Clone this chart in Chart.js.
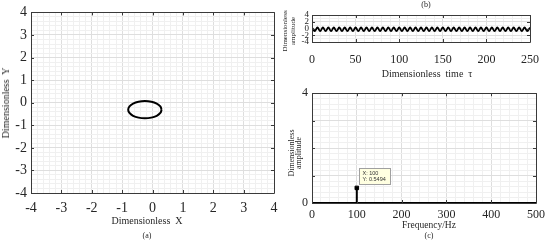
<!DOCTYPE html>
<html><head><meta charset="utf-8">
<script src="https://cdn.jsdelivr.net/npm/chart.js@4/dist/chart.umd.min.js"></script>
<style>
body{margin:0;background:#fff;width:550px;height:243px;overflow:hidden;position:relative}
canvas{position:absolute;display:block}
.t{position:absolute;white-space:nowrap;font-family:"Liberation Serif","Times New Roman",serif;color:#262626;line-height:1;transform:translate(-50%,-50%)}
.r{transform:translate(-50%,-50%) rotate(-90deg)}
</style></head><body>
<canvas id="ca" width="285" height="243" style="left:0;top:0"></canvas>
<canvas id="cb" width="290" height="82" style="left:260px;top:0"></canvas>
<canvas id="cc" width="290" height="161" style="left:260px;top:82px"></canvas>

<div class="t r" style="left:6px;top:103px;font-size:10px">Dimensionless&nbsp; Y</div>
<div class="t" style="left:147px;top:221px;font-size:10px">Dimensionless&nbsp; X</div>
<div class="t" style="left:147px;top:236px;font-size:8px">(a)</div>

<div class="t" style="left:426px;top:5px;font-size:8px">(b)</div>
<div class="t r" style="left:285px;top:31px;font-size:7px">Dimensionless</div>
<div class="t r" style="left:293px;top:31px;font-size:7px">amplitude</div>
<div class="t" style="left:427px;top:74px;font-size:10px">Dimensionless&nbsp; time&nbsp; τ</div>

<div class="t r" style="left:292px;top:153px;font-size:8px">Dimensionless</div>
<div class="t r" style="left:299px;top:153px;font-size:8px">amplitude</div>
<div class="t" style="left:429px;top:226px;font-size:9.5px">Frequency/Hz</div>
<div class="t" style="left:429px;top:236px;font-size:8px">(c)</div>

<script>
// ---- Data ----
// (a) phase portrait: Dimensionless X vs Dimensionless Y (closed orbit)
const orbitX = [0.30, 0.258, 0.139, -0.039, -0.25, -0.461, -0.639, -0.758, -0.80, -0.758, -0.639, -0.461, -0.25, -0.039, 0.139, 0.258, 0.30];
const orbitY = [-0.31, -0.164, -0.041, 0.041, 0.07, 0.041, -0.041, -0.164, -0.31, -0.456, -0.579, -0.661, -0.69, -0.661, -0.579, -0.456, -0.31];

// (b) time history: extrema of the oscillation
const timeT = [0,3.125,6.25,9.375,12.5,15.625,18.75,21.875,25,28.125,31.25,34.375,37.5,40.625,43.75,46.875,50,53.125,56.25,59.375,62.5,65.625,68.75,71.875,75,78.125,81.25,84.375,87.5,90.625,93.75,96.875,100,103.125,106.25,109.375,112.5,115.625,118.75,121.875,125,128.125,131.25,134.375,137.5,140.625,143.75,146.875,150,153.125,156.25,159.375,162.5,165.625,168.75,171.875,175,178.125,181.25,184.375,187.5,190.625,193.75,196.875,200,203.125,206.25,209.375,212.5,215.625,218.75,221.875,225,228.125,231.25,234.375,237.5,240.625,243.75,246.875,250];
const ampT = [0.3,-0.8,0.3,-0.8,0.3,-0.8,0.3,-0.8,0.3,-0.8,0.3,-0.8,0.3,-0.8,0.3,-0.8,0.3,-0.8,0.3,-0.8,0.3,-0.8,0.3,-0.8,0.3,-0.8,0.3,-0.8,0.3,-0.8,0.3,-0.8,0.3,-0.8,0.3,-0.8,0.3,-0.8,0.3,-0.8,0.3,-0.8,0.3,-0.8,0.3,-0.8,0.3,-0.8,0.3,-0.8,0.3,-0.8,0.3,-0.8,0.3,-0.8,0.3,-0.8,0.3,-0.8,0.3,-0.8,0.3,-0.8,0.3,-0.8,0.3,-0.8,0.3,-0.8,0.3,-0.8,0.3,-0.8,0.3,-0.8,0.3,-0.8,0.3,-0.8,0.3];

// (c) amplitude spectrum
const freqHz = [0, 100, 100, 100, 500];
const ampF = [0, 0, 0.5494, 0, 0];
const peakHz = [100];
const peakAmp = [0.5494];

// tick label sets
const ticksA = [-4,-3,-2,-1,0,1,2,3,4];
const ticksBY = [-4,-2,0,2,4];
const ticksBX = [0,50,100,150,200,250];
const ticksCX = [0,100,200,300,400,500];
const ticksCY = [0,4];

// ---- helpers ----
const FONT = '"Liberation Serif","Times New Roman",serif';
const near = (v, arr) => arr.some(a => Math.abs(a - v) < 1e-6);
const isMult = (v, m) => Math.abs(v / m - Math.round(v / m)) < 1e-6;
function pts(xs, ys) { return xs.map((x, i) => ({x: x, y: ys[i]})); }

function axis(cfg) {
  return {
    type: 'linear', min: cfg.min, max: cfg.max,
    border: {display: false},
    grid: {
      drawTicks: false,
      color: c => isMult(c.tick.value, cfg.major) ? '#dedede' : '#f0f0f0',
      lineWidth: 1
    },
    ticks: {
      stepSize: cfg.step, autoSkip: false, maxRotation: 0, minRotation: 0,
      padding: cfg.pad, color: '#262626',
      font: {family: FONT, size: cfg.size},
      callback: v => near(v, cfg.labels) ? String(Math.round(v)) : ''
    },
    afterFit: s => { s[cfg.fitKey] = cfg.fit; }
  };
}

function framePlugin(majX, majY, tip) {
  return {
    id: 'frame',
    afterDatasetsDraw(chart) {
      const {ctx, chartArea: a, scales} = chart;
      ctx.save();
      ctx.strokeStyle = '#3a3a3a';
      ctx.lineWidth = 1;
      ctx.beginPath();
      ctx.rect(Math.round(a.left) + 0.5, Math.round(a.top) + 0.5, Math.round(a.right - a.left), Math.round(a.bottom - a.top));
      ctx.stroke();
      const tl = 3;
      ctx.beginPath();
      scales.x.ticks.forEach(t => {
        if (!isMult(t.value, majX)) return;
        const px = Math.round(scales.x.getPixelForValue(t.value)) + 0.5;
        ctx.moveTo(px, a.bottom); ctx.lineTo(px, a.bottom - tl);
        ctx.moveTo(px, a.top); ctx.lineTo(px, a.top + tl);
      });
      scales.y.ticks.forEach(t => {
        if (!isMult(t.value, majY)) return;
        const py = Math.round(scales.y.getPixelForValue(t.value)) + 0.5;
        ctx.moveTo(a.left, py); ctx.lineTo(a.left + tl, py);
        ctx.moveTo(a.right, py); ctx.lineTo(a.right - tl, py);
      });
      ctx.stroke();
      if (tip) {
        const px = scales.x.getPixelForValue(tip.x);
        const py = scales.y.getPixelForValue(tip.y);
        const bx = Math.round(px + 2) + 0.5, by = Math.round(py - 20) + 0.5;
        ctx.fillStyle = '#ffffe1';
        ctx.strokeStyle = '#a0a0a0';
        ctx.fillRect(bx, by, 31, 16);
        ctx.strokeRect(bx, by, 31, 16);
        ctx.fillStyle = '#333';
        ctx.font = '5.5px "Liberation Sans", Arial, sans-serif';
        ctx.textBaseline = 'middle';
        ctx.fillText('X: ' + tip.x, bx + 3, by + 5);
        ctx.fillText('Y: ' + tip.y, bx + 3, by + 11);
      }
      ctx.restore();
    }
  };
}

const common = {
  responsive: false, animation: false,
  plugins: {legend: {display: false}, tooltip: {enabled: false}},
  events: []
};

// ---- (a) ----
new Chart(document.getElementById('ca'), {
  type: 'scatter',
  data: {datasets: [{
    data: pts(orbitX, orbitY), showLine: true, tension: 0.4,
    borderColor: '#000', borderWidth: 2, pointRadius: 0
  }]},
  options: Object.assign({}, common, {
    layout: {padding: {left: 0, top: 11, right: 11, bottom: 0}},
    scales: {
      x: axis({min: -4, max: 4, step: 0.2, major: 1, labels: ticksA, size: 14, pad: 7, fit: 50, fitKey: 'height'}),
      y: axis({min: -4, max: 4, step: 0.2, major: 1, labels: ticksA, size: 14, pad: 4, fit: 31, fitKey: 'width'})
    }
  }),
  plugins: [framePlugin(1, 1, null)]
});

// ---- (b) ----
new Chart(document.getElementById('cb'), {
  type: 'scatter',
  data: {datasets: [{
    data: pts(timeT, ampT), showLine: true, cubicInterpolationMode: 'monotone',
    borderColor: '#000', borderWidth: 1.8, pointRadius: 0
  }]},
  options: Object.assign({}, common, {
    layout: {padding: {left: 0, top: 15, right: 9, bottom: 0}},
    scales: {
      x: axis({min: 0, max: 250, step: 10, major: 50, labels: ticksBX, size: 12, pad: 11, fit: 40, fitKey: 'height'}),
      y: axis({min: -4, max: 4, step: 1, major: 2, labels: ticksBY, size: 9, pad: 3, fit: 52, fitKey: 'width'})
    }
  }),
  plugins: [framePlugin(50, 2, null)]
});

// ---- (c) ----
new Chart(document.getElementById('cc'), {
  type: 'scatter',
  data: {datasets: [
    {data: pts(freqHz, ampF), showLine: true, borderColor: '#000', borderWidth: 2, pointRadius: 0, clip: false},
    {data: pts(peakHz, peakAmp), showLine: false, pointStyle: 'rect', pointRadius: 2.5, backgroundColor: '#000', borderColor: '#000'}
  ]},
  options: Object.assign({}, common, {
    layout: {padding: {left: 0, top: 6, right: 9, bottom: 0}},
    scales: {
      x: axis({min: 0, max: 500, step: 20, major: 100, labels: ticksCX, size: 12, pad: 5, fit: 40, fitKey: 'height'}),
      y: axis({min: 0, max: 4, step: 0.2, major: 1, labels: ticksCY, size: 12, pad: 4, fit: 52, fitKey: 'width'})
    }
  }),
  plugins: [framePlugin(100, 1, {x: peakHz[0], y: peakAmp[0]})]
});
</script>
</body></html>
